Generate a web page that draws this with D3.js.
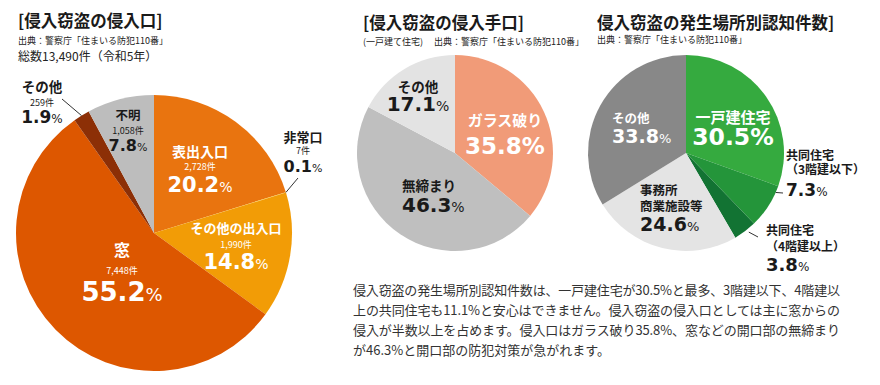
<!DOCTYPE html>
<html>
<head>
<meta charset="utf-8">
<script src="https://cdn.jsdelivr.net/npm/d3@7"></script>
<style>
  body { margin: 0; background: #fff; }
</style>
</head>
<body>
<svg id="chart" width="880" height="385"></svg>
<script>
// [侵入窃盗の侵入口] - counts and shares
var entryNames = ["表出入口", "非常口", "その他の出入口", "窓", "その他", "不明"];
var entryCounts = [2728, 7, 1990, 7448, 259, 1058];
var entryPct = [20.2, 0.1, 14.8, 55.2, 1.9, 7.8];

// [侵入窃盗の侵入手口]
var methodNames = ["ガラス破り", "無締まり", "その他"];
var methodPct = [35.8, 46.3, 17.1];

// 侵入窃盗の発生場所別認知件数
var placeNames = [["一戸建住宅"], ["共同住宅", "（3階建以下）"], ["共同住宅", "（4階建以上）"], ["事務所", "商業施設等"], ["その他"]];
var placePct = [30.5, 7.3, 3.8, 24.6, 33.8];

var titles = ["[侵入窃盗の侵入口]", "[侵入窃盗の侵入手口]", "侵入窃盗の発生場所別認知件数]"];
var source = "出典：警察庁「住まいる防犯110番」";
var totalText = "総数13,490件（令和5年）";
var houseNote = "(一戸建て住宅)";

var noteLines = [
  "侵入窃盗の発生場所別認知件数は、一戸建住宅が30.5%と最多、3階建以下、4階建以",
  "上の共同住宅も11.1%と安心はできません。侵入窃盗の侵入口としては主に窓からの",
  "侵入が半数以上を占めます。侵入口はガラス破り35.8%、窓などの開口部の無締まり",
  "が46.3%と開口部の防犯対策が急がれます。"
];

var svg = d3.select("#chart");
var jp = "'Noto Sans CJK JP', sans-serif";
var num = "'DejaVu Sans', sans-serif";
var fmtPct = d3.format(".1f");
var fmtCount = d3.format(",");
var ink = "#1a1a1a";

svg.append("rect").attr("width", 880).attr("height", 385).attr("fill", "#fff");

function addText(g, x, y, anchor, fill, size, weight, family) {
  return g.append("text")
    .attr("x", x).attr("y", y)
    .attr("text-anchor", anchor)
    .attr("fill", fill)
    .attr("font-size", size)
    .attr("font-weight", weight || "normal")
    .attr("font-family", family || jp);
}

function addPct(g, x, y, anchor, fill, value, size, bigPct) {
  var t = addText(g, x, y, anchor, fill, size, "bold", num);
  t.append("tspan").text(fmtPct(value));
  t.append("tspan")
    .attr("font-size", bigPct ? size : Math.round(size * 0.68))
    .attr("font-weight", bigPct ? "bold" : "normal")
    .text("%");
}

// point on the rim of a slice, t = position inside the slice (0..1)
function rimPoint(d, t, rr) {
  var a = d.startAngle + (d.endAngle - d.startAngle) * t;
  return [rr * Math.sin(a), -rr * Math.cos(a)];
}

function drawPie(cfg, values) {
  var g = svg.append("g").attr("transform", "translate(" + cfg.cx + "," + cfg.cy + ")");
  var arcs = d3.pie().sort(null).value(function(d) { return d; })(values);
  var arc = d3.arc().innerRadius(0).outerRadius(cfg.r);
  g.selectAll("path")
    .data(arcs)
    .enter()
    .append("path")
    .attr("d", arc)
    .attr("fill", function(d, i) { return cfg.colors[i]; });
  return { g: g, arcs: arcs };
}

function leader(g, d, r, lab) {
  if (!lab.line) return;
  var p = rimPoint(d, lab.line.t, r + lab.line.off);
  g.append("line")
    .attr("x1", p[0]).attr("y1", p[1])
    .attr("x2", lab.line.to[0]).attr("y2", lab.line.to[1])
    .attr("stroke", "#333").attr("stroke-width", 1);
}

//////////// headings ////////////
addText(svg, 18, 27, "start", ink, 16.5, "bold").text(titles[0]);
addText(svg, 18, 44, "start", "#222", 9).text(source);
addText(svg, 18, 61, "start", "#222", 12).text(totalText);

addText(svg, 363, 29, "start", ink, 16.5, "bold").text(titles[1]);
addText(svg, 363, 45, "start", "#222", 9).text(houseNote);
addText(svg, 434, 45, "start", "#222", 9).text(source);

addText(svg, 597, 29, "start", ink, 16.5, "bold").text(titles[2]);
addText(svg, 597, 43, "start", "#222", 9).text(source);

//////////// pie 1: 侵入口 ////////////
var cfg1 = {
  cx: 154, cy: 233, r: 138,
  colors: ["#e9740f", "#f7d43c", "#f29c06", "#dd5700", "#8c2f06", "#bdbdbd"],
  labels: [
    { x: 46, y: [-76, -63.5, -41], anchor: "middle", fill: "#fff", name: 14, pct: 21 },
    { x: 149, y: [-91, -79.5, -61], anchor: "middle", fill: ink, name: 13, pct: 16,
      line: { t: 0.5, off: 0, to: [144, -55] } },
    { x: 82, y: [0, 15, 36], anchor: "middle", fill: "#fff", name: 13, pct: 21 },
    { x: -32, y: [23, 41, 68], anchor: "middle", fill: "#fff", name: 16, pct: 26 },
    { x: -112, y: [-141, -127.5, -110], anchor: "middle", fill: ink, name: 13.5, pct: 17,
      line: { t: 0.5, off: 0, to: [-92, -134] } },
    { x: -26, y: [-113, -99, -82], anchor: "middle", fill: ink, name: 12.5, pct: 16 }
  ]
};
var p1 = drawPie(cfg1, entryCounts);
cfg1.labels.forEach(function(lab, i) {
  leader(p1.g, p1.arcs[i], cfg1.r, lab);
  addText(p1.g, lab.x, lab.y[0], lab.anchor, lab.fill, lab.name, "bold").text(entryNames[i]);
  addText(p1.g, lab.x, lab.y[1], lab.anchor, lab.fill, 9).text(fmtCount(entryCounts[i]) + "件");
  addPct(p1.g, lab.x, lab.y[2], lab.anchor, lab.fill, entryPct[i], lab.pct, false);
});

//////////// pie 2: 侵入手口 ////////////
var cfg2 = {
  cx: 455, cy: 153, r: 98,
  colors: ["#f19b78", "#bfbfbf", "#e3e3e3"],
  labels: [
    { x: 50, y: [-27, 1], anchor: "middle", fill: "#fff", name: 15, pct: 23, bigPct: true },
    { x: -53, y: [38, 59], anchor: "start", fill: ink, name: 13.5, pct: 20 },
    { x: -37, y: [-61, -42], anchor: "middle", fill: ink, name: 13.5, pct: 20 }
  ]
};
var p2 = drawPie(cfg2, methodPct);
cfg2.labels.forEach(function(lab, i) {
  addText(p2.g, lab.x, lab.y[0], lab.anchor, lab.fill, lab.name, "bold").text(methodNames[i]);
  addPct(p2.g, lab.x, lab.y[1], lab.anchor, lab.fill, methodPct[i], lab.pct, lab.bigPct);
});

//////////// pie 3: 発生場所 ////////////
var cfg3 = {
  cx: 686, cy: 153, r: 98,
  colors: ["#35aa3f", "#24953a", "#127333", "#e4e4e4", "#888888"],
  labels: [
    { x: 47, y: [-30, -8], anchor: "middle", fill: "#fff", name: 15, pct: 23.5, bigPct: true },
    { x: 100, y: [7, 21, 43], anchor: "start", fill: ink, name: 12, pct: 17,
      line: { t: 0.15, off: 0, to: [97, 40] } },
    { x: 80, y: [82, 98, 118], anchor: "start", fill: ink, name: 12, pct: 18,
      line: { t: 0.4, off: 3, to: [72, 84] } },
    { x: -46, y: [42, 58, 78], anchor: "start", fill: ink, name: 12.5, pct: 19 },
    { x: -74, y: [-30, -10], anchor: "start", fill: "#fff", name: 12.5, pct: 19 }
  ]
};
var p3 = drawPie(cfg3, placePct);
cfg3.labels.forEach(function(lab, i) {
  leader(p3.g, p3.arcs[i], cfg3.r, lab);
  var lines = placeNames[i];
  lines.forEach(function(s, k) {
    addText(p3.g, lab.x, lab.y[k], lab.anchor, lab.fill, lab.name, "bold").text(s);
  });
  addPct(p3.g, lab.x, lab.y[lines.length], lab.anchor, lab.fill, placePct[i], lab.pct, lab.bigPct);
});

//////////// note text ////////////
var noteWidths = [487, 487, 487, 257];
noteLines.forEach(function(s, i) {
  addText(svg, 353, 295 + i * 20, "start", "#333", 13)
    .attr("textLength", noteWidths[i])
    .attr("lengthAdjust", "spacing")
    .text(s);
});
</script>
</body>
</html>
